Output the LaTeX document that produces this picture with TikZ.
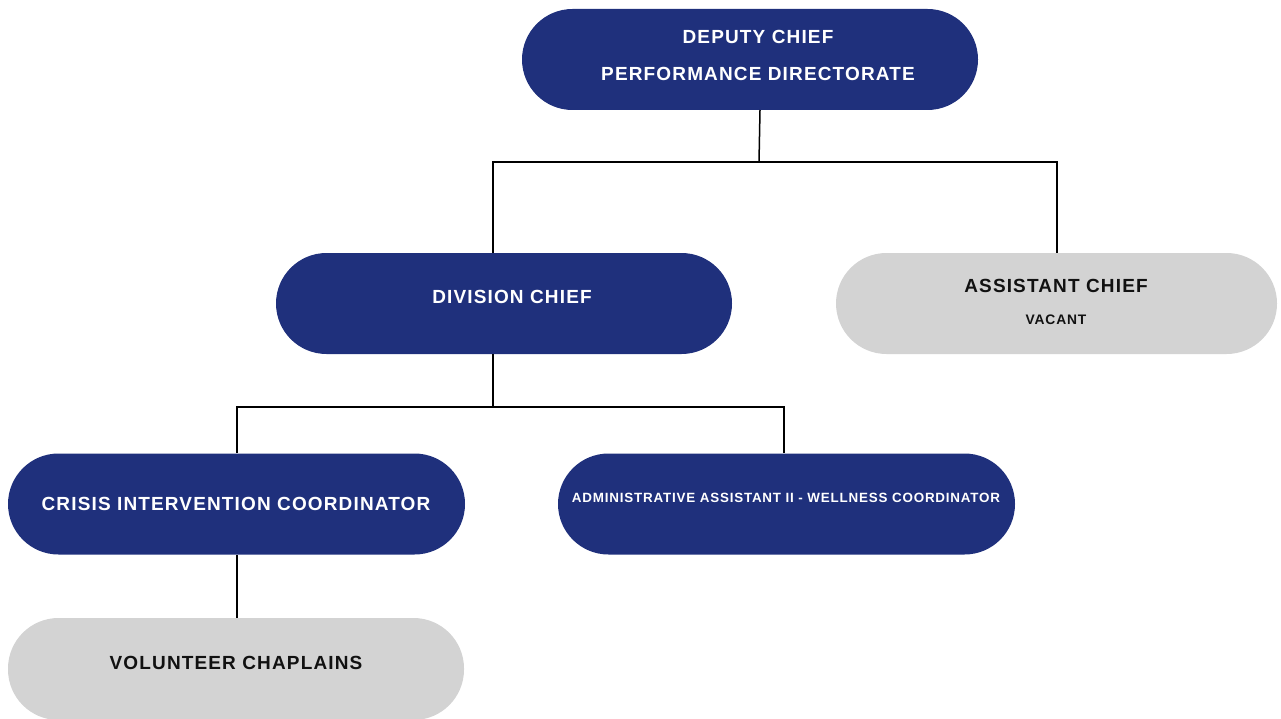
\documentclass[tikz,border=0pt]{standalone}
\usepackage{fontspec}
\setmainfont{Liberation Sans}[LetterSpace=6]
\definecolor{navy}{HTML}{1F307C}
\definecolor{pale}{HTML}{D3D3D3}
\definecolor{ink}{HTML}{111111}
\begin{document}
\begin{tikzpicture}[x=1pt,y=-1pt,
  pill/.style={rectangle,rounded corners=50.5pt,minimum height=101pt,inner sep=0pt,draw=none},
  navypill/.style={pill,fill=navy},
  greypill/.style={pill,fill=pale},
  wtxt/.style={text=white,font=\bfseries\fontsize{19}{22}\selectfont,inner sep=0pt},
  btxt/.style={text=ink,font=\bfseries\fontsize{19}{22}\selectfont,inner sep=0pt},
  wsmall/.style={text=white,font=\bfseries\fontsize{13.4}{16}\selectfont,inner sep=0pt},
  bsmall/.style={text=ink,font=\bfseries\fontsize{13.8}{16}\selectfont,inner sep=0pt},
  link/.style={draw=black,line width=1.5pt}]
\useasboundingbox (0,0) rectangle (1281,719);
% boxes
\node[navypill,minimum width=456pt] (dep) at (750,59.5) {};
\node[navypill,minimum width=456pt] (div) at (504,303.5) {};
\node[greypill,minimum width=441pt] (asst) at (1056.5,303.5) {};
\node[navypill,minimum width=457pt] (cri) at (236.5,504) {};
\node[navypill,minimum width=457pt] (adm) at (786.5,504) {};
\node[greypill,minimum width=456pt,minimum height=102pt] (vol) at (236,669) {};
% texts
\node[wtxt] (depA) at (758,37) {DEPUTY CHIEF};
\node[wtxt] (depB) at (758,74) {PERFORMANCE DIRECTORATE};
\node[wtxt] (divT) at (512,297) {DIVISION CHIEF};
\node[btxt] (asstA) at (1056,286) {ASSISTANT CHIEF};
\node[bsmall] (asstB) at (1056,320) {VACANT};
\node[wtxt] (criT) at (236,504) {CRISIS INTERVENTION COORDINATOR};
\node[wsmall] (admT) at (786,498) {ADMINISTRATIVE ASSISTANT II - WELLNESS COORDINATOR};
\node[btxt] (volT) at (236,663) {VOLUNTEER CHAPLAINS};
% connector coordinates
\coordinate (d0) at (760,110);
\coordinate (d1) at (759,162);
\coordinate (dl) at (493,162);
\coordinate (dr) at (1057,162);
\coordinate (dlb) at (493,253);
\coordinate (drb) at (1057,253);
\coordinate (v0) at (493,354);
\coordinate (v1) at (493,407);
\coordinate (vl) at (237,407);
\coordinate (vr) at (784,407);
\coordinate (vlb) at (237,453);
\coordinate (vrb) at (784,453);
\coordinate (c0) at (237,555);
\coordinate (c1) at (237,618);
\draw[link] (d0) -- (d1);
\draw[link] (dlb) -- (dl) -- (dr) -- (drb);
\draw[link] (v0) -- (v1);
\draw[link] (vlb) -- (vl) -- (vr) -- (vrb);
\draw[link] (c0) -- (c1);
\end{tikzpicture}
\end{document}
